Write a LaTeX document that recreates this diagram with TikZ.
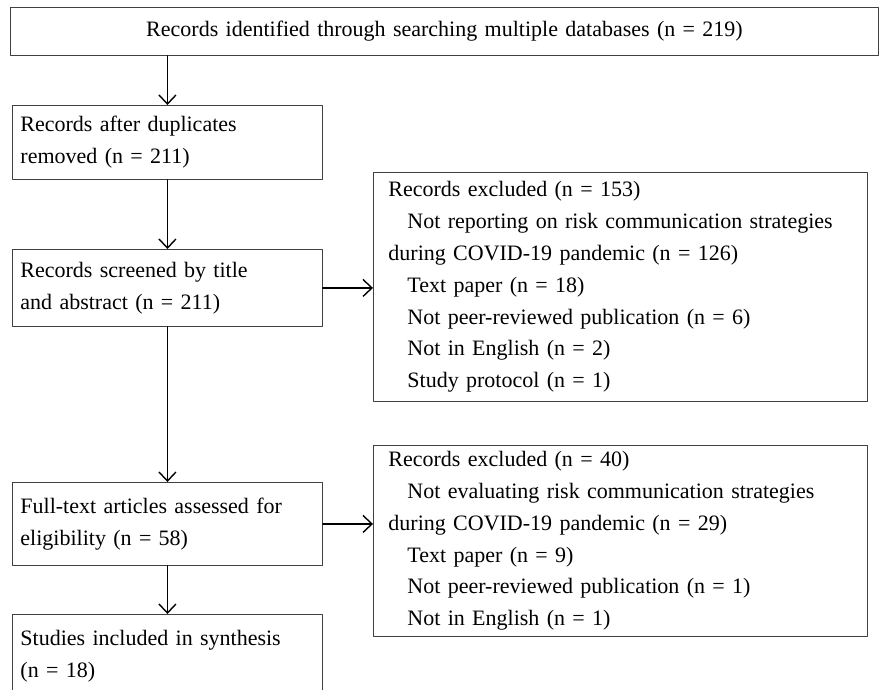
\documentclass[tikz,border=0pt]{standalone}
\usepackage{fontspec}
\setmainfont{Liberation Serif}
\usetikzlibrary{arrows.meta, positioning, calc}

\begin{document}
\begin{tikzpicture}[x=1pt, y=-1pt, line cap=round, line join=round,
    box/.style={draw=black!75, line width=0.9pt, anchor=north west,
      inner xsep=8pt, inner ysep=0pt, align=left,
      font=\fontsize{22}{31.8}\selectfont},
    leftbox/.style={box, minimum width=310pt, text width=294pt},
    exclbox/.style={box, inner xsep=15pt, minimum width=494pt, text width=464pt},
    flow/.style={line width=1.4pt, -{Straight Barb[length=9pt, width=17pt]}}]
  \useasboundingbox (0,0) rectangle (880,690);
  \clip (0,0) rectangle (880,690);
  \newcommand{\ind}{\hspace*{19pt}}
  % left column
  \node[box, minimum width=868pt, minimum height=48pt, text width=852pt,
    align=center] (ident) at (10,7)
    {Records identified through searching multiple databases (n = 219)};
  \node[leftbox, minimum height=74pt] (dup) at (12,105)
    {Records after duplicates\\removed (n = 211)};
  \node[leftbox, minimum height=77pt] (screen) at (12,249)
    {Records screened by title\\and abstract (n = 211)};
  \node[leftbox, minimum height=83pt] (full) at (12,482)
    {Full-text articles assessed for\\eligibility (n = 58)};
  \node[leftbox, minimum height=84pt] (incl) at (12,614)
    {Studies included in synthesis\\(n = 18)};
  % exclusion boxes
  \node[exclbox, minimum height=229pt] (excla) at (373,172)
    {Records excluded (n = 153)\\
     \ind Not reporting on risk communication strategies\\
     during COVID-19 pandemic (n = 126)\\
     \ind Text paper (n = 18)\\
     \ind Not peer-reviewed publication (n = 6)\\
     \ind Not in English (n = 2)\\
     \ind Study protocol (n = 1)};
  \node[exclbox, minimum height=191pt] (exclb) at (373,445)
    {Records excluded (n = 40)\\
     \ind Not evaluating risk communication strategies\\
     during COVID-19 pandemic (n = 29)\\
     \ind Text paper (n = 9)\\
     \ind Not peer-reviewed publication (n = 1)\\
     \ind Not in English (n = 1)};
  % arrows
  \draw[flow] (ident.south -| dup.north) -- (dup.north);
  \draw[flow] (dup.south) -- (screen.north);
  \draw[flow] (screen.south) -- (full.north);
  \draw[flow] (full.south) -- (incl.north);
  \draw[flow] (screen.east) -- (screen.east -| excla.west);
  \draw[flow] (full.east) -- (full.east -| exclb.west);
\end{tikzpicture}
\end{document}
